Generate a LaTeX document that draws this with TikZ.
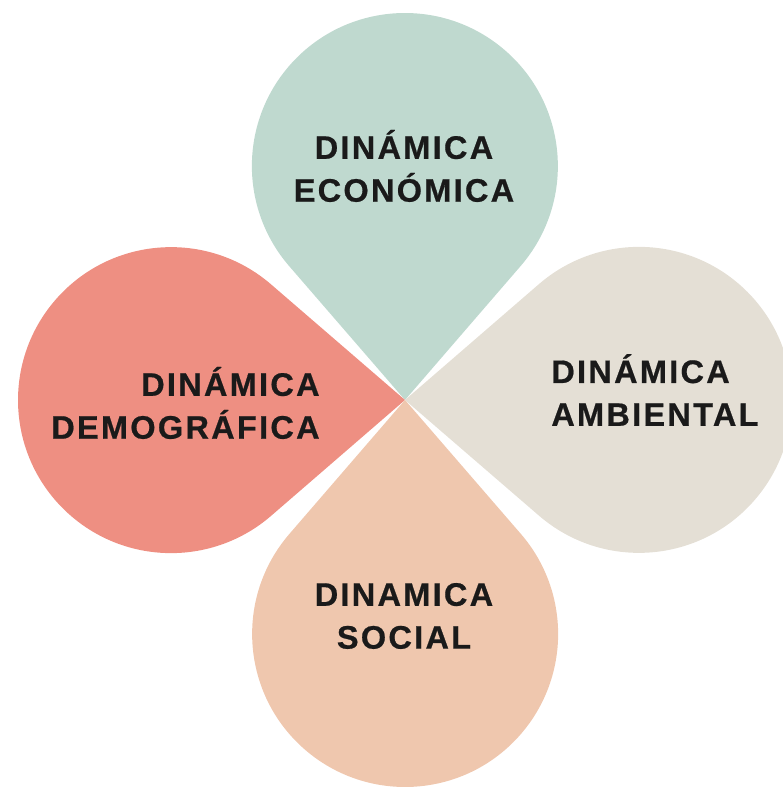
\documentclass[tikz,border=0pt]{standalone}
\usepackage{fontspec}
\setmainfont{Liberation Sans}
\usepackage{tikz}

\definecolor{verdeagua}{HTML}{BFD9CF}
\definecolor{salmon}{HTML}{EE8F82}
\definecolor{arena}{HTML}{E4DFD5}
\definecolor{durazno}{HTML}{EFC7AE}
\definecolor{tinta}{HTML}{1A1A1A}

\tikzset{
  etiqueta/.style={text=tinta, inner sep=0pt,
    font=\fontsize{18.5}{24.4}\selectfont\bfseries\addfontfeatures{LetterSpace=7,FakeBold=0.6}}
}

\begin{document}
\begin{tikzpicture}[x=0.02cm,y=0.02cm]
\useasboundingbox (-405,-390) rectangle (378,400);
\coordinate (centro) at (0,0);
% las cuatro gotas
\foreach \ang/\col in {90/verdeagua,180/salmon,0/arena,270/durazno}
  \fill [\col] (centro) -- (\ang-40.8:177.05)
        arc [start angle=\ang+229.2, end angle=\ang+490.8, radius=153] -- cycle;
\node [etiqueta, align=center] (eco) at (-1,234) {DINÁMICA\\ECONÓMICA};
\node [etiqueta, align=right, anchor=east] (demo) at (-85,-3) {DINÁMICA\\DEMOGRÁFICA};
\node [etiqueta, align=left, anchor=west] (amb) at (146,10) {DINÁMICA\\AMBIENTAL};
\node [etiqueta, align=center] (soc) at (-1,-216) {DINAMICA\\SOCIAL};
\end{tikzpicture}
\end{document}
